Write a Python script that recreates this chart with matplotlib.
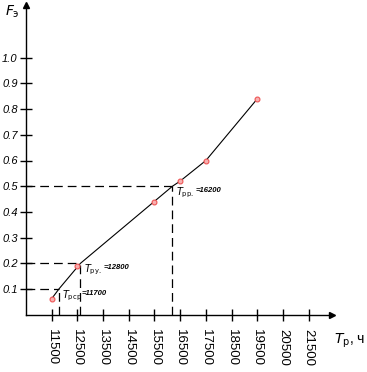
import matplotlib
matplotlib.use('Agg')
import matplotlib.pyplot as plt

plt.rcParams['font.family'] = ['Liberation Sans', 'DejaVu Sans']

# ==============================================================
# data

# measured points
pts_t = [11500, 12500, 15500, 16500, 17500, 19500]
pts_f = [0.06, 0.19, 0.44, 0.52, 0.60, 0.84]

# approximating curve
curve_t = [11520, 11780, 12620, 16200, 16500, 17500, 19500]
curve_f = [0.065, 0.10, 0.20, 0.50, 0.52, 0.60, 0.84]

# reading levels and where they meet the curve
levels = [0.1, 0.2, 0.5]
cross_t = [11780, 12620, 16200]
cross_sub = ['рср', 'ру.', 'рр.']
cross_txt = ['11700', '12800', '16200']

xticks = [11500, 12500, 13500, 14500, 15500, 16500, 17500, 18500, 19500, 20500, 21500]
yticks = [0.1, 0.2, 0.3, 0.4, 0.5, 0.6, 0.7, 0.8, 0.9, 1.0]

# ==============================================================
# figure

W, H = 367, 372
fig = plt.figure(figsize=(W / 100, H / 100), dpi=100)
ax = fig.add_axes([26 / W, (H - 314.7) / H, 306 / W, 309.7 / H])
ax.set_xlim(10500, 10500 + 306 / 25.7 * 1000)
ax.set_ylim(0, 309.7 / 257)

for s in ['top', 'right']:
    ax.spines[s].set_visible(False)
for s in ['left', 'bottom']:
    ax.spines[s].set_linewidth(1.0)

# arrow heads
ax.plot(1, 0, marker='>', color='k', ms=5, transform=ax.transAxes, clip_on=False)
ax.plot(0, 1, marker='^', color='k', ms=5, transform=ax.transAxes, clip_on=False)

# dashed guide lines
for lv, ct in zip(levels, cross_t):
    ax.plot([10500, ct], [lv, lv], color='k', lw=0.9, dashes=(7, 4))
    ax.plot([ct, ct], [0, lv], color='k', lw=0.9, dashes=(7, 4))

ax.plot(curve_t, curve_f, color='k', lw=0.8)
ax.plot(pts_t, pts_f, linestyle='none', marker='o', ms=3.5,
        mfc='#f7b0b0', mec='#ee5555', mew=0.8)

for lv, ct, sub, txt in zip(levels, cross_t, cross_sub, cross_txt):
    ax.text(ct + 120, lv + 0.003, r'$T_{\mathrm{' + sub + '}}$',
            fontsize=7, style='italic', va='top')
    ax.text(ct + 880, lv - 0.004, '=' + txt, fontsize=5.5,
            style='italic', fontweight='bold', va='top')

ax.set_xticks(xticks)
ax.set_xticklabels([str(v) for v in xticks], rotation=-90, fontsize=9.5)
ax.set_yticks(yticks)
ax.set_yticklabels(['%.1f' % v for v in yticks], fontsize=8, style='italic')
ax.tick_params(direction='inout', length=8, width=1.0, pad=2)
ax.tick_params(axis='x', pad=6)

fig.text(5 / W, 1 - 16 / H, r'$F_{\mathrm{э}}$', fontsize=10)
fig.text(334 / W, 1 - 344 / H, r'$T_{\mathrm{р}}$, ч', fontsize=10)

fig.savefig('out.png', dpi=100)
